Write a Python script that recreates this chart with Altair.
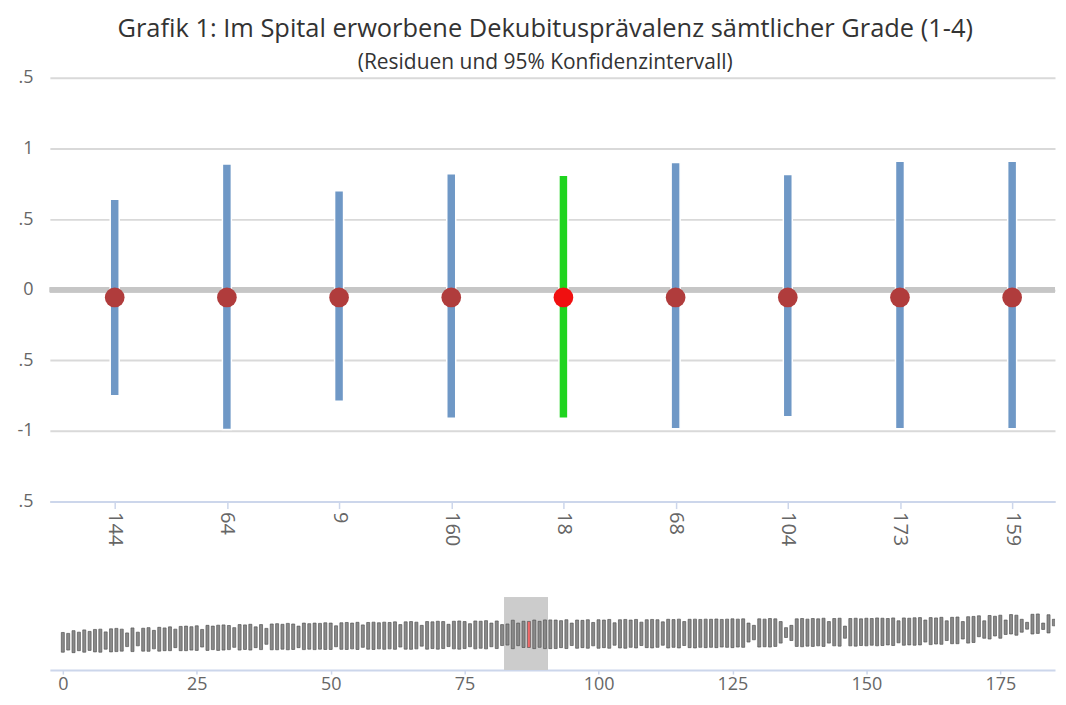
import altair as alt
import pandas as pd

# ---------------- data ----------------
hospitals = ["144", "64", "9", "160", "18", "68", "104", "173", "159"]
residuals = [-0.055, -0.055, -0.055, -0.055, -0.055, -0.055, -0.055, -0.055, -0.055]
ci_upper = [0.64, 0.89, 0.70, 0.82, 0.81, 0.90, 0.815, 0.91, 0.91]
ci_lower = [-0.75, -0.99, -0.79, -0.91, -0.91, -0.985, -0.90, -0.985, -0.985]
highlight = "18"

y_ticks = [-1.5, -1, -0.5, 0, 0.5, 1, 1.5]
nav_ticks = [0, 25, 50, 75, 100, 125, 150, 175]

nav_upper = [
    0.08, 0.02, 0.20, 0.10, 0.25, 0.15, 0.28, 0.30, 0.12, 0.32,
    0.35, 0.30, 0.05, 0.38, 0.10, 0.36, 0.40, 0.22, 0.42, 0.38,
    0.45, 0.30, 0.48, 0.50, 0.46, 0.52, 0.28, 0.55, 0.50, 0.56,
    0.58, 0.54, 0.40, 0.60, 0.58, 0.62, 0.45, 0.60, 0.35, 0.64,
    0.66, 0.62, 0.68, 0.64, 0.50, 0.70, 0.66, 0.70, 0.68, 0.72,
    0.70, 0.52, 0.72, 0.74, 0.70, 0.75, 0.58, 0.74, 0.76, 0.72,
    0.76, 0.74, 0.78, 0.60, 0.78, 0.80, 0.76, 0.55, 0.80, 0.78,
    0.82, 0.80, 0.62, 0.82, 0.84, 0.80, 0.66, 0.84, 0.82, 0.86,
    0.70, 0.84, 0.60, 0.64, 0.89, 0.70, 0.82, 0.81, 0.90, 0.815,
    0.91, 0.91, 0.90, 0.86, 0.92, 0.70, 0.90, 0.88, 0.92, 0.74,
    0.92, 0.90, 0.94, 0.72, 0.92, 0.94, 0.90, 0.94, 0.76, 0.92,
    0.94, 0.92, 0.78, 0.95, 0.93, 0.96, 0.80, 0.95, 0.96, 0.94,
    0.96, 0.95, 0.97, 0.94, 0.96, 0.98, 0.96, 0.98, 0.70, 0.55,
    0.98, 0.96, 1.00, 0.98, 0.80, 0.40, 0.55, 0.98, 1.00, 0.96,
    1.00, 0.98, 1.02, 0.80, 1.00, 1.02, 0.50, 1.00, 1.02, 0.98,
    1.02, 1.00, 1.04, 1.02, 1.00, 1.04, 0.85, 1.04, 1.02, 1.05,
    1.06, 0.90, 1.06, 1.04, 1.08, 0.85, 1.08, 1.10, 0.80, 1.12,
    1.14, 1.18, 0.85, 1.20, 1.15, 1.22, 0.90, 1.26, 1.22, 0.95,
    0.75, 1.28, 1.30, 0.70, 1.25, 0.95, 1.38,
]
nav_lower = [
    -1.22, -1.08, -1.25, -1.12, -1.22, -1.10, -1.20, -1.22, -1.02, -1.20,
    -1.18, -1.15, -0.85, -1.18, -0.80, -1.15, -1.16, -1.00, -1.15, -1.12,
    -1.12, -0.92, -1.12, -1.12, -1.08, -1.10, -0.88, -1.10, -1.05, -1.10,
    -1.08, -1.05, -0.90, -1.08, -1.04, -1.08, -0.92, -1.05, -0.70, -1.06,
    -1.06, -1.02, -1.06, -1.04, -0.92, -1.05, -1.02, -1.05, -1.02, -1.04,
    -1.04, -0.86, -1.03, -1.04, -1.00, -1.04, -0.90, -1.02, -1.04, -1.00,
    -1.03, -1.00, -1.03, -0.88, -1.02, -1.03, -1.00, -0.82, -1.02, -0.98,
    -1.02, -0.98, -0.85, -1.00, -1.02, -0.98, -0.86, -1.00, -0.96, -1.00,
    -0.86, -0.98, -0.78, -0.75, -0.99, -0.79, -0.91, -0.91, -0.985, -0.90,
    -0.985, -0.985, -0.98, -0.92, -0.98, -0.78, -0.96, -0.92, -0.96, -0.80,
    -0.96, -0.92, -0.96, -0.76, -0.94, -0.96, -0.90, -0.94, -0.78, -0.92,
    -0.94, -0.90, -0.76, -0.94, -0.90, -0.94, -0.78, -0.92, -0.94, -0.90,
    -0.92, -0.90, -0.92, -0.88, -0.90, -0.92, -0.88, -0.90, -0.55, -0.40,
    -0.88, -0.86, -0.88, -0.84, -0.62, -0.25, -0.45, -0.84, -0.86, -0.82,
    -0.84, -0.80, -0.84, -0.62, -0.80, -0.82, -0.30, -0.80, -0.82, -0.78,
    -0.80, -0.76, -0.80, -0.78, -0.74, -0.78, -0.60, -0.76, -0.74, -0.76,
    -0.74, -0.55, -0.72, -0.68, -0.70, -0.45, -0.66, -0.66, -0.35, -0.62,
    -0.58, -0.20, -0.30, -0.35, -0.15, -0.30, -0.05, -0.02, -0.10, 0.10,
    0.30, -0.02, 0.02, 0.28, 0.05, 0.52, 0.40,
]
nav_selected = 87
nav_window = [82.5, 90.5]

# ---------------- frames ----------------
main_df = pd.DataFrame({
    "hospital": hospitals,
    "residual": residuals,
    "upper": ci_upper,
    "lower": ci_lower,
})
main_df["selected"] = main_df["hospital"] == highlight

n = min(len(nav_upper), len(nav_lower))
nav_df = pd.DataFrame({
    "rank": list(range(n)),
    "upper": nav_upper[:n],
    "lower": nav_lower[:n],
})
nav_df["selected"] = nav_df["rank"] == nav_selected

FONT = "Open Sans"
AXIS_BLUE = "#ccd6eb"
LABEL = "#666666"
PLOT_W = 1008

# ---------------- main chart ----------------
x_main = alt.X(
    "hospital:N",
    sort=hospitals,
    scale=alt.Scale(type="point", padding=0.48, align=0.602),
    axis=alt.Axis(
        title=None, labelAngle=90, labelFontSize=20, labelColor=LABEL, labelFont=FONT,
        labelPadding=3, domainColor=AXIS_BLUE, domainWidth=2, tickColor=AXIS_BLUE,
        tickSize=7, tickWidth=1.5, grid=False, minExtent=49, maxExtent=49,
    ),
)
y_scale = alt.Scale(domain=[-1.5, 1.5], nice=False, zero=False)
y_axis = alt.Axis(
    title=None, values=y_ticks,
    labelExpr="datum.value == 0 ? '0' : datum.value == 1 ? '1' : datum.value == -1 ? '-1' : '.5'",
    labelFontSize=18, labelColor=LABEL, labelFont=FONT, labelPadding=17,
    domain=False, ticks=False, grid=True, gridColor="#d9d9d9", gridWidth=2,
    minExtent=37, maxExtent=37,
)

base = alt.Chart(main_df)
zero_line = base.mark_rule(color="#c6c6c6", strokeWidth=5).encode(
    y=alt.Y(datum=0, scale=y_scale, axis=y_axis)
)
bars = base.mark_bar(size=9, stroke="white", strokeWidth=1.5).encode(
    x=x_main,
    y=alt.Y("upper:Q", scale=y_scale, axis=y_axis),
    y2="lower:Q",
    color=alt.condition("datum.selected", alt.value("#1fd41f"), alt.value("#6f98c6")),
)
points = base.mark_circle(size=390, opacity=1).encode(
    x=x_main,
    y=alt.Y("residual:Q", scale=y_scale, axis=y_axis),
    color=alt.condition("datum.selected", alt.value("#f01010"), alt.value("#b03c3c")),
)
main = alt.layer(zero_line, bars, points).properties(width=PLOT_W, height=425)

# ---------------- navigator ----------------
nav_x_scale = alt.Scale(domain=[-1.486, 184.28], nice=False, zero=False)
nav_x_axis = alt.Axis(
    title=None, values=nav_ticks, labelFontSize=18, labelColor=LABEL, labelFont=FONT,
    labelPadding=1, domainColor=AXIS_BLUE, domainWidth=2, tickColor=AXIS_BLUE,
    tickSize=4, tickWidth=1.5, grid=False, labelFlush=False,
)
nav_y_scale = alt.Scale(domain=[-2.4, 2.4], nice=False, zero=False)
nav_y_axis = alt.Axis(
    title=None, labels=False, ticks=False, domain=False, grid=False,
    minExtent=37, maxExtent=37,
)
nav_base = alt.Chart(nav_df)
window = nav_base.mark_rect(color="#cccccc").encode(
    x=alt.X(datum=nav_window[0], scale=nav_x_scale, axis=nav_x_axis),
    x2=alt.X2(datum=nav_window[1]),
    y=alt.value(0),
    y2=alt.value(73),
)
nav_bars = nav_base.mark_bar(size=3, stroke="#555555", strokeWidth=0.7, clip=True).encode(
    x=alt.X("rank:Q", scale=nav_x_scale, axis=nav_x_axis),
    y=alt.Y("upper:Q", scale=nav_y_scale, axis=nav_y_axis),
    y2="lower:Q",
    color=alt.condition("datum.selected", alt.value("#f06a6a"), alt.value("#8a8a8a")),
)
nav = alt.layer(window, nav_bars).properties(width=PLOT_W, height=73)

chart = alt.vconcat(main, nav, spacing=47).properties(
    title=alt.TitleParams(
        text="Grafik 1: Im Spital erworbene Dekubitusprävalenz sämtlicher Grade (1-4)",
        subtitle="(Residuen und 95% Konfidenzintervall)",
        font=FONT, fontSize=25.5, fontWeight="normal", color="#333333",
        subtitleFont=FONT, subtitleFontSize=21, subtitleColor="#333333",
        anchor="middle", offset=-4.5, subtitlePadding=10, dx=10,
    ),
    padding={"left": 5, "top": 8, "right": 0, "bottom": 2},
).configure(background="white").configure_view(stroke=None)

chart.save("out.html", embed_options={"renderer": "svg", "actions": False})
